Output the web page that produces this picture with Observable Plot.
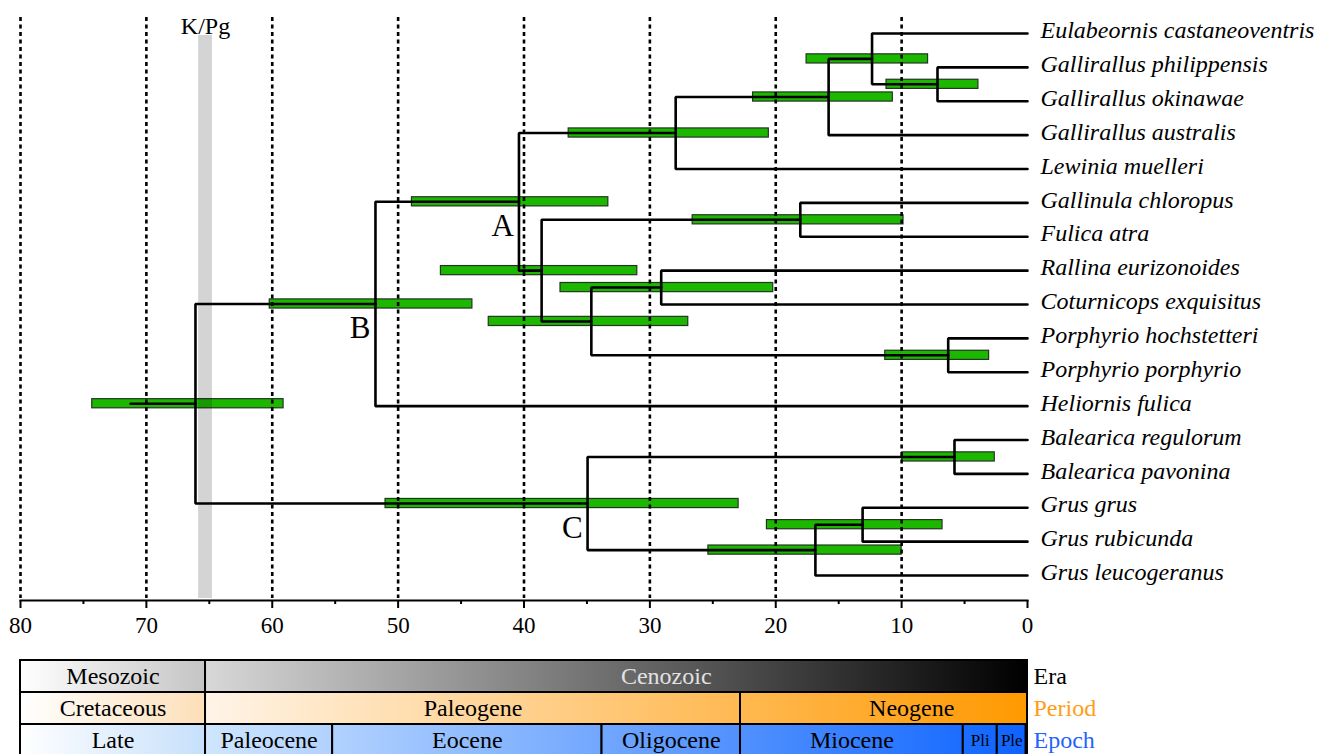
<!DOCTYPE html>
<html><head><meta charset="utf-8">
<script src="https://cdn.jsdelivr.net/npm/d3@7"></script>
<script src="https://cdn.jsdelivr.net/npm/@observablehq/plot@0.6"></script>
<style>
html,body{margin:0;padding:0;background:#fff;}
#chart svg{display:block;}
</style></head><body><div id="chart"></div>
<script>
// ---- Tips (top to bottom) ----
const tipNames = [
  "Eulabeornis castaneoventris","Gallirallus philippensis","Gallirallus okinawae",
  "Gallirallus australis","Lewinia muelleri","Gallinula chloropus","Fulica atra",
  "Rallina eurizonoides","Coturnicops exquisitus","Porphyrio hochstetteri",
  "Porphyrio porphyrio","Heliornis fulica","Balearica regulorum","Balearica pavonina",
  "Grus grus","Grus rubicunda","Grus leucogeranus"
];

// ---- Internal nodes (post-order) ----
const nodeIds = ["n1","n2","n3","n4","n5","n6","n7","n8","n9","A","B","n10","n11","n12","C","root"];
const nodeChildren = [
  ["Gallirallus philippensis","Gallirallus okinawae"],
  ["Eulabeornis castaneoventris","n1"],
  ["n2","Gallirallus australis"],
  ["n3","Lewinia muelleri"],
  ["Gallinula chloropus","Fulica atra"],
  ["Rallina eurizonoides","Coturnicops exquisitus"],
  ["Porphyrio hochstetteri","Porphyrio porphyrio"],
  ["n6","n7"],
  ["n5","n8"],
  ["n4","n9"],
  ["A","Heliornis fulica"],
  ["Balearica regulorum","Balearica pavonina"],
  ["Grus grus","Grus rubicunda"],
  ["n11","Grus leucogeranus"],
  ["n10","n12"],
  ["B","C"]
];
// node ages (Ma) and 95% HPD intervals (older, younger)
const nodeAges   = [7.15, 12.35, 15.8, 27.95, 18.05, 29.1, 6.3, 34.65, 38.6, 40.4, 51.8, 5.8, 13.1, 16.85, 34.95, 66.1];
const hpdOld     = [11.2, 17.55, 21.8, 36.45, 26.6, 37.1, 11.3, 42.8, 46.6, 48.9, 60.2, 9.95, 20.7, 25.35, 51.0, 74.3];
const hpdYoung   = [3.9,  7.9,  10.7, 20.55, 9.85, 20.2, 3.05, 26.95, 31.0, 33.3, 44.1, 2.6,  6.75, 10.0, 22.95, 59.1];
const nodeLabels = {A: "A", B: "B", C: "C"};
const rootStemAge = 71.25;

// ---- Axis & K/Pg ----
const majorTicks = [80, 70, 60, 50, 40, 30, 20, 10, 0];
const minorTicks = [75, 65, 55, 45, 35, 25, 15, 5];
const gridAges = [80, 70, 60, 50, 40, 30, 20, 10];
const kpgBand = [{from: 65.85, to: 64.75, label: "K/Pg", at: 65.3}];

// ---- Geologic time scale ----
const rowNames  = ["Era", "Period", "Epoch"];
const rowColors = ["#000000", "#ff9d1a", "#1f63ff"];
const eraNames   = ["Mesozoic", "Cenozoic"];
const eraBounds  = [80, 65.3, 0];
const eraLabelAt = [null, 28.7];
const periodNames   = ["Cretaceous", "Paleogene", "Neogene"];
const periodBounds  = [80, 65.3, 22.8, 0];
const periodLabelAt = [null, null, 9.2];
const epochNames   = ["Late", "Paleocene", "Eocene", "Oligocene", "Miocene", "Pli", "Ple", ""];
const epochBounds  = [80, 65.3, 55.2, 33.8, 22.8, 5.1, 2.4, 0.1, 0];
const epochLabelAt = [null, null, null, null, null, null, null, null];
const mesoCenoBoundary = 65.3;

// ---------- build tree geometry ----------
const yOf = {}, ageOf = {};
tipNames.forEach((n, i) => { yOf[n] = i; ageOf[n] = 0; });
const nodes = nodeIds.map((id, i) => ({id, children: nodeChildren[i], age: nodeAges[i], hi: hpdOld[i], lo: hpdYoung[i], label: nodeLabels[id] || null}));
nodes.forEach(nd => {
  const ys = nd.children.map(c => yOf[c]);
  nd.y = (d3.min(ys) + d3.max(ys)) / 2;
  yOf[nd.id] = nd.y; ageOf[nd.id] = nd.age;
});
const branchPts = nodes.flatMap(nd => {
  const [a, b] = nd.children.slice().sort((p, q) => yOf[p] - yOf[q]);
  return [
    {id: nd.id, x: ageOf[a], y: yOf[a]},
    {id: nd.id, x: nd.age, y: yOf[a]},
    {id: nd.id, x: nd.age, y: yOf[b]},
    {id: nd.id, x: ageOf[b], y: yOf[b]}
  ];
});
const root = nodes.find(d => d.id === "root");
branchPts.push({id: "stem", x: rootStemAge, y: root.y}, {id: "stem", x: root.age, y: root.y});

const FONT = "'Liberation Serif', 'Times New Roman', Times, serif";
const half = 0.135; // half bar thickness in tip units

const tree = Plot.plot({
  width: 1317, height: 645,
  marginLeft: 20, marginRight: 290, marginTop: 0, marginBottom: 45,
  x: {domain: [80, 0], axis: null, label: null},
  y: {domain: [0, 16], range: [33, 575], axis: null, label: null},
  color: {type: "identity"},
  style: {fontFamily: FONT, background: "white", color: "black", overflow: "visible"},
  marks: [
    Plot.rect(nodes, {x1: "hi", x2: "lo", y1: d => d.y - half, y2: d => d.y + half, fill: "#1cb800", stroke: "#243424", strokeWidth: 1.2}),
    Plot.rect(kpgBand, {x1: "from", x2: "to", insetTop: 35, insetBottom: 2, fill: "black", fillOpacity: 0.17}),
    Plot.ruleX(gridAges, {stroke: "black", strokeWidth: 2.6, strokeDasharray: "4,3.5", insetTop: 17, insetBottom: 2}),
    Plot.line(branchPts, {x: "x", y: "y", z: "id", stroke: "black", strokeWidth: 2.6, strokeLinejoin: "miter"}),
    Plot.text(tipNames, {x: 0, y: (d, i) => i, text: d => d, dx: 13, dy: -3, textAnchor: "start", lineAnchor: "middle", fontStyle: "italic", fontSize: 24, fill: "black"}),
    Plot.text(nodes.filter(d => d.label), {x: "age", y: "y", text: "label", dx: -5, dy: 34, textAnchor: "end", lineAnchor: "bottom", fontSize: 31, fill: "black"}),
    Plot.text(kpgBand, {x: "at", text: "label", frameAnchor: "top", dy: 16, lineAnchor: "top", fontSize: 24, fill: "black"}),
    Plot.axisX({ticks: majorTicks, tickSize: 8, tickPadding: 8, fontSize: 23, strokeWidth: 2, tickFormat: d => d, label: null}),
    Plot.axisX({ticks: minorTicks, tickSize: 4, strokeWidth: 2, tickFormat: () => "", label: null}),
    Plot.frame({anchor: "bottom", strokeWidth: 2})
  ]
});

// ---------- time scale ----------
function makeCells(row, names, bounds, labelAt) {
  return names.map((name, i) => {
    const start = bounds[i], end = bounds[i + 1];
    const meso = start > mesoCenoBoundary;
    return {row, name, start, end,
      labelAt: labelAt[i] != null ? labelAt[i] : (start + end) / 2,
      grad: `url(#g-${row}-${meso ? "meso" : "ceno"})`,
      txt: (row === "Era" && !meso) ? "#e2e2e2" : "#000000",
      size: name.length <= 3 ? 17 : 24};
  });
}
const cells = [
  ...makeCells("Era", eraNames, eraBounds, eraLabelAt),
  ...makeCells("Period", periodNames, periodBounds, periodLabelAt),
  ...makeCells("Epoch", epochNames, epochBounds, epochLabelAt)
];

const timescale = Plot.plot({
  width: 1317, height: 109,
  marginLeft: 20, marginRight: 290, marginTop: 14, marginBottom: 0,
  x: {domain: [80, 0], axis: null, label: null},
  y: {domain: rowNames, range: [14, 112], padding: 0, axis: null, label: null},
  color: {type: "identity"},
  style: {fontFamily: FONT, background: "white", color: "black"},
  marks: [
    Plot.barX(cells, {x1: "start", x2: "end", y: "row", fill: "grad", stroke: "black", strokeWidth: 2}),
    Plot.text(cells, {x: "labelAt", y: "row", text: "name", fill: "txt", fontSize: "size", lineAnchor: "middle"}),
    Plot.text(rowNames, {x: 0, y: d => d, text: d => d, dx: 6, textAnchor: "start", fill: (d, i) => rowColors[i], fontSize: 24})
  ]
});

// gradients, positioned through the x scale
const xs = timescale.scale("x");
const gradStops = {
  "Era-meso": ["#ffffff", "#c4c4c4"], "Era-ceno": ["#d8d8d8", "#000000"],
  "Period-meso": ["#ffffff", "#fddfb8"], "Period-ceno": ["#fff4e8", "#ff9900"],
  "Epoch-meso": ["#ffffff", "#c6e0fb"], "Epoch-ceno": ["#cfe6fe", "#0d63ff"]
};
const tsSvg = timescale.tagName.toLowerCase() === "svg" ? timescale : timescale.querySelector("svg");
const defs = d3.select(tsSvg).insert("defs", ":first-child");
Object.entries(gradStops).forEach(([key, cols]) => {
  const meso = key.endsWith("meso");
  const from = meso ? 80 : mesoCenoBoundary, to = meso ? mesoCenoBoundary : 0;
  const lg = defs.append("linearGradient").attr("id", "g-" + key)
    .attr("gradientUnits", "userSpaceOnUse")
    .attr("x1", xs.apply(from)).attr("x2", xs.apply(to)).attr("y1", 0).attr("y2", 0);
  lg.append("stop").attr("offset", 0).attr("stop-color", cols[0]);
  lg.append("stop").attr("offset", 1).attr("stop-color", cols[1]);
});

const chart = document.getElementById("chart");
chart.appendChild(tree);
chart.appendChild(timescale);
</script>
</body></html>
